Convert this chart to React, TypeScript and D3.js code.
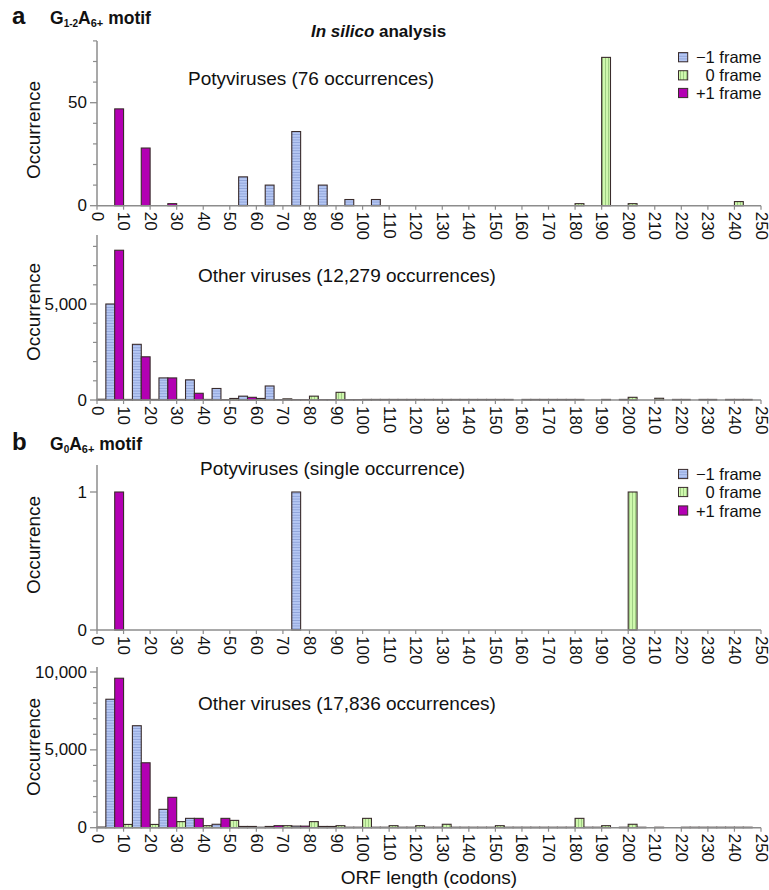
// Two-motif ORF-length histograms (a: G1-2A6+, b: G0A6+), potyviruses vs other viruses.
// Plain JSX + d3 scales; each 10-codon bin holds three sub-bars (0, −1, +1 frame).
import { useEffect } from "react";
import * as d3 from "d3";

const X_TICKS = [0, 10, 20, 30, 40, 50, 60, 70, 80, 90, 100, 110, 120, 130, 140, 150, 160, 170, 180, 190, 200, 210, 220, 230, 240, 250];
const BIN_START = X_TICKS.slice(0, -1);

// ---- a: G1-2A6+ motif ----
const A_POTY_MINUS = [0, 0, 0, 0, 0, 14, 10, 36, 10, 3, 3, 0, 0, 0, 0, 0, 0, 0, 0, 0, 0, 0, 0, 0, 0];
const A_POTY_ZERO = [0, 0, 0, 0, 0, 0, 0, 0, 0, 0, 0, 0, 0, 0, 0, 0, 0, 0, 1, 72, 1, 0, 0, 0, 2];
const A_POTY_PLUS = [47, 28, 1, 0, 0, 0, 0, 0, 0, 0, 0, 0, 0, 0, 0, 0, 0, 0, 0, 0, 0, 0, 0, 0, 0];

const A_OTHER_MINUS = [5000, 2900, 1150, 1050, 600, 200, 730, 20, 20, 20, 30, 30, 30, 30, 30, 30, 30, 30, 0, 0, 0, 0, 0, 0, 30];
const A_OTHER_ZERO = [40, 30, 30, 30, 30, 80, 80, 60, 200, 400, 30, 30, 30, 30, 30, 30, 30, 30, 30, 30, 140, 90, 30, 30, 30];
const A_OTHER_PLUS = [7800, 2250, 1150, 350, 20, 140, 20, 20, 20, 20, 30, 30, 30, 30, 30, 0, 30, 30, 0, 30, 0, 30, 30, 30, 0];

// ---- b: G0A6+ motif ----
const B_POTY_MINUS = [0, 0, 0, 0, 0, 0, 0, 1, 0, 0, 0, 0, 0, 0, 0, 0, 0, 0, 0, 0, 0, 0, 0, 0, 0];
const B_POTY_ZERO = [0, 0, 0, 0, 0, 0, 0, 0, 0, 0, 0, 0, 0, 0, 0, 0, 0, 0, 0, 0, 1, 0, 0, 0, 0];
const B_POTY_PLUS = [1, 0, 0, 0, 0, 0, 0, 0, 0, 0, 0, 0, 0, 0, 0, 0, 0, 0, 0, 0, 0, 0, 0, 0, 0];

const B_OTHER_MINUS = [8250, 6550, 1180, 600, 220, 80, 80, 100, 80, 30, 30, 30, 30, 30, 30, 30, 30, 30, 30, 0, 30, 0, 30, 30, 30];
const B_OTHER_ZERO = [40, 210, 210, 390, 130, 470, 30, 130, 390, 130, 600, 130, 130, 220, 30, 130, 30, 30, 600, 130, 220, 30, 30, 30, 30];
const B_OTHER_PLUS = [9600, 4170, 1950, 600, 600, 80, 130, 100, 80, 30, 30, 30, 30, 30, 30, 30, 30, 30, 30, 30, 0, 0, 30, 30, 0];

const LEGEND = ["\u22121 frame", "0 frame", "+1 frame"];

const FONT = "'Liberation Sans', Arial, Helvetica, sans-serif";
const AXIS = "#8c8c8c";
const EDGE = "#3a2c2c";
const MAGENTA = "#b300b3";

type Panel = {
  key: string;
  y0: number; // px of value 0
  yRef: number; // px of refValue
  refValue: number;
  topPx: number; // axis top
  major: number[];
  minor: number[];
  fmt: (v: number) => string;
  zero: number[];
  minus: number[];
  plus: number[];
  caption: string;
  capX: number;
  capY: number;
  labelY: number;
  legendY?: number[];
};

const PANELS: Panel[] = [
  {
    key: "a1", y0: 205.7, yRef: 102.7, refValue: 50, topPx: 41,
    major: [0, 50], minor: [10, 20, 30, 40, 60, 70, 80], fmt: (v) => String(v),
    zero: A_POTY_ZERO, minus: A_POTY_MINUS, plus: A_POTY_PLUS,
    caption: "Potyviruses (76 occurrences)", capX: 188, capY: 85, labelY: 130,
    legendY: [57.2, 75.3, 93],
  },
  {
    key: "a2", y0: 400, yRef: 304, refValue: 5000, topPx: 235,
    major: [0, 5000], minor: [1000, 2000, 3000, 4000, 6000, 7000, 8000], fmt: d3.format(","),
    zero: A_OTHER_ZERO, minus: A_OTHER_MINUS, plus: A_OTHER_PLUS,
    caption: "Other viruses (12,279 occurrences)", capX: 198, capY: 282, labelY: 312,
  },
  {
    key: "b1", y0: 630, yRef: 492, refValue: 1, topPx: 465,
    major: [0, 1], minor: [], fmt: (v) => String(v),
    zero: B_POTY_ZERO, minus: B_POTY_MINUS, plus: B_POTY_PLUS,
    caption: "Potyviruses (single occurrence)", capX: 200, capY: 475, labelY: 545,
    legendY: [474, 492, 510.5],
  },
  {
    key: "b2", y0: 827.7, yRef: 672, refValue: 10000, topPx: 667,
    major: [0, 5000, 10000], minor: [1000, 2000, 3000, 4000, 6000, 7000, 8000, 9000], fmt: d3.format(","),
    zero: B_OTHER_ZERO, minus: B_OTHER_MINUS, plus: B_OTHER_PLUS,
    caption: "Other viruses (17,836 occurrences)", capX: 198, capY: 710, labelY: 747,
  },
];

const x = d3.scaleLinear().domain([0, 250]).range([97, 761]);

function PanelView({ p }: { p: Panel }) {
  const y = d3.scaleLinear().domain([0, p.refValue]).range([p.y0, p.yRef]);
  const slots = [
    { data: p.zero, fill: "url(#vstripe)" },
    { data: p.minus, fill: "url(#hstripe)" },
    { data: p.plus, fill: MAGENTA },
  ];
  const third = 10 / 3;
  return (
    <g>
      {/* bars */}
      {slots.map((s, si) =>
        BIN_START.map((b, i) => {
          const v = s.data[i];
          if (!v) return null;
          const x0 = x(b + si * third);
          const x1 = x(b + (si + 1) * third);
          const yt = y(v);
          return (
            <rect
              key={`${si}-${i}`}
              x={x0}
              y={yt}
              width={x1 - x0}
              height={Math.max(0.01, p.y0 - yt)}
              fill={s.fill}
              stroke={EDGE}
              strokeWidth={1.1}
            />
          );
        }),
      )}
      {/* y axis */}
      <line x1={97} x2={97} y1={p.y0} y2={p.topPx} stroke={AXIS} strokeWidth={1.5} />
      {p.minor.map((v) => (
        <line key={`mn${v}`} x1={93} x2={97} y1={y(v)} y2={y(v)} stroke={AXIS} strokeWidth={1.2} />
      ))}
      {p.major.map((v) => (
        <g key={`mj${v}`}>
          <line x1={90} x2={97} y1={y(v)} y2={y(v)} stroke={AXIS} strokeWidth={1.3} />
          <text x={87} y={y(v)} textAnchor="end" dominantBaseline="central" fontSize={17}>
            {p.fmt(v)}
          </text>
        </g>
      ))}
      {/* x axis */}
      <line x1={97} x2={761} y1={p.y0} y2={p.y0} stroke={AXIS} strokeWidth={1.5} />
      {X_TICKS.map((t) => (
        <g key={`xt${t}`}>
          <line x1={x(t)} x2={x(t)} y1={p.y0} y2={p.y0 + 4} stroke={AXIS} strokeWidth={1.2} />
          <text
            transform={`translate(${x(t)},${p.y0 + 6}) rotate(90)`}
            textAnchor="start"
            dominantBaseline="central"
            fontSize={17}
          >
            {t}
          </text>
        </g>
      ))}
      {/* y label */}
      <text
        transform={`translate(33,${p.labelY}) rotate(-90)`}
        textAnchor="middle"
        dominantBaseline="central"
        fontSize={19}
      >
        Occurrence
      </text>
      <text x={p.capX} y={p.capY} fontSize={19}>
        {p.caption}
      </text>
      {p.legendY &&
        p.legendY.map((ly, i) => (
          <g key={`lg${i}`}>
            <rect
              x={678.5}
              y={ly - 4.6}
              width={9.2}
              height={9.2}
              fill={i === 0 ? "url(#hstripe)" : i === 1 ? "url(#vstripe)" : MAGENTA}
              stroke={EDGE}
              strokeWidth={1}
            />
            <text x={761.5} y={ly} textAnchor="end" dominantBaseline="central" fontSize={16.5}>
              {LEGEND[i]}
            </text>
          </g>
        ))}
    </g>
  );
}

export default function App() {
  useEffect(() => {
    document.body.style.margin = "0";
  }, []);
  return (
    <svg
      width={769}
      height={890}
      viewBox="0 0 769 890"
      style={{ display: "block", background: "#fff", fontFamily: FONT }}
      fill="#111"
    >
      <defs>
        <pattern id="hstripe" patternUnits="userSpaceOnUse" width={6} height={2.7}>
          <rect width={6} height={2.7} fill="#b6c8f4" />
          <line x1={0} x2={6} y1={2.2} y2={2.2} stroke="#8499cf" strokeWidth={0.8} />
        </pattern>
        <pattern id="vstripe" patternUnits="userSpaceOnUse" width={3} height={6}>
          <rect width={3} height={6} fill="#cff8ad" />
          <line x1={2.5} x2={2.5} y1={0} y2={6} stroke="#93c17a" strokeWidth={0.8} />
        </pattern>
      </defs>

      {/* panel headers */}
      <text x={12} y={24} fontSize={24} fontWeight="bold">a</text>
      <text x={50} y={24} fontSize={17.5} fontWeight="bold">
        G<tspan fontSize={10} dy={3}>1-2</tspan>
        <tspan dy={-3}>A</tspan>
        <tspan fontSize={11} dy={3}>6+</tspan>
        <tspan dy={-3}> motif</tspan>
      </text>
      <text x={311} y={37} fontSize={17} fontWeight="bold">
        <tspan fontStyle="italic">In silico</tspan> analysis
      </text>

      <text x={12} y={450} fontSize={24} fontWeight="bold">b</text>
      <text x={50} y={450} fontSize={17.5} fontWeight="bold">
        G<tspan fontSize={10} dy={3}>0</tspan>
        <tspan dy={-3}>A</tspan>
        <tspan fontSize={11} dy={3}>6+</tspan>
        <tspan dy={-3}> motif</tspan>
      </text>

      {PANELS.map((p) => (
        <PanelView key={p.key} p={p} />
      ))}

      <text x={429} y={884} textAnchor="middle" fontSize={19}>
        ORF length (codons)
      </text>
    </svg>
  );
}
